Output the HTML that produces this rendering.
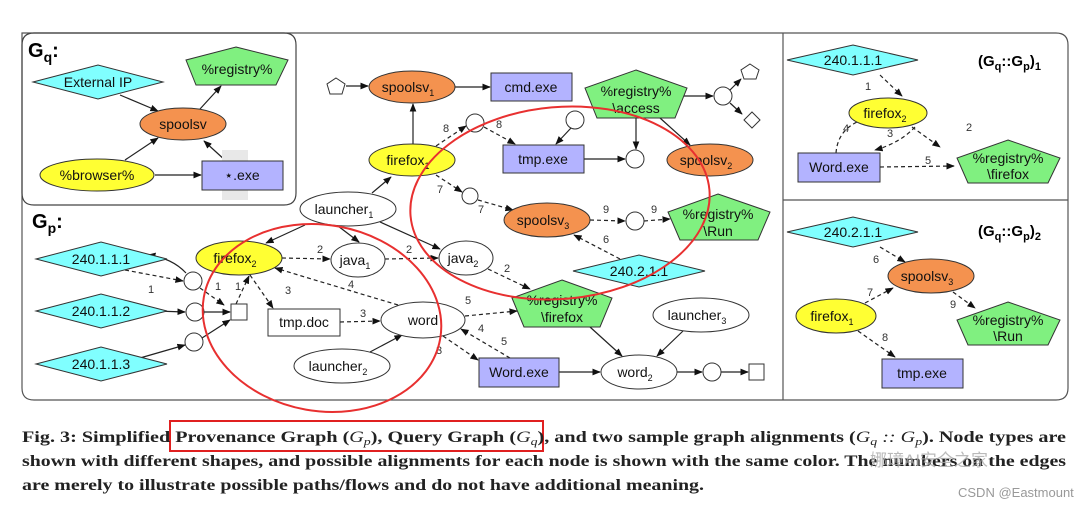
<!DOCTYPE html>
<html><head><meta charset="utf-8"><style>
html,body{margin:0;padding:0;background:#fff;}
svg{display:block;}
.t{font-family:"Liberation Sans",Arial,sans-serif;font-size:14px;fill:#111;}
.n{font-family:"Liberation Sans",Arial,sans-serif;font-size:11px;fill:#333;}
.s{stroke:#222;stroke-width:1.2;fill:none;}
.d{stroke:#222;stroke-width:1.2;fill:none;stroke-dasharray:4,3;}
.cap{font-family:"Liberation Serif",serif;font-size:16px;font-weight:bold;fill:#222;}
</style></head><body>
<svg width="1080" height="506" viewBox="0 0 1080 506" xmlns="http://www.w3.org/2000/svg">
<defs><marker id="a" viewBox="0 0 10 10" refX="9" refY="5" markerWidth="7" markerHeight="7" orient="auto"><path d="M0,1 L10,5 L0,9z" fill="#111"/></marker></defs>
<path d="M22,33 H1056 Q1068,33 1068,45 V388 Q1068,400 1056,400 H34 Q22,400 22,388 Z" fill="none" stroke="#555" stroke-width="1.2"/>
<path d="M22,193 V45 Q22,33 34,33 H284 Q296,33 296,45 V193 Q296,205 284,205 H34 Q22,205 22,193Z" fill="none" stroke="#444" stroke-width="1.2"/>
<line x1="783" y1="33" x2="783" y2="400" stroke="#555" stroke-width="1.2"/>
<line x1="783" y1="200" x2="1068" y2="200" stroke="#555" stroke-width="1.2"/>
<text x="28" y="57" style="font-family:'Liberation Sans',sans-serif;font-size:20px;font-weight:bold">G<tspan font-size="14" dy="5">q</tspan><tspan dy="-5">:</tspan></text>
<text x="32" y="228" style="font-family:'Liberation Sans',sans-serif;font-size:20px;font-weight:bold">G<tspan font-size="14" dy="5">p</tspan><tspan dy="-5">:</tspan></text>
<text x="978" y="66" style="font-family:'Liberation Sans',sans-serif;font-size:15px;font-weight:bold">(G<tspan font-size="11" dy="4">q</tspan><tspan dy="-4">::G</tspan><tspan font-size="11" dy="4">p</tspan><tspan dy="-4">)</tspan><tspan font-size="11" dy="4">1</tspan></text>
<text x="978" y="236" style="font-family:'Liberation Sans',sans-serif;font-size:15px;font-weight:bold">(G<tspan font-size="11" dy="4">q</tspan><tspan dy="-4">::G</tspan><tspan font-size="11" dy="4">p</tspan><tspan dy="-4">)</tspan><tspan font-size="11" dy="4">2</tspan></text>

<g marker-end="url(#a)">
<line class="s" x1="120" y1="95" x2="158" y2="111"/>
<line class="s" x1="200" y1="109" x2="221" y2="86"/>
<line class="s" x1="125" y1="160" x2="158" y2="138"/>
<line class="s" x1="155" y1="175" x2="201" y2="175"/>
<line class="s" x1="226" y1="161" x2="204" y2="141"/>
</g>
<polygon points="33,82 98,65 163,82 98,99" fill="#80ffff" stroke="#333"/>
<text class="t" x="98" y="87" text-anchor="middle">External IP</text>
<polygon points="236,47 288,60 276,85 196,85 186,60" fill="#80f080" stroke="#333"/>
<text class="t" x="237" y="74" text-anchor="middle">%registry%</text>
<ellipse cx="183" cy="124" rx="43" ry="16" fill="#f4924f" stroke="#333"/>
<text class="t" x="183" y="129" text-anchor="middle">spoolsv</text>
<ellipse cx="97" cy="175" rx="57" ry="16" fill="#ffff33" stroke="#333"/>
<text class="t" x="97" y="180" text-anchor="middle">%browser%</text>
<rect x="222" y="150" width="26" height="50" fill="#e8e8e8"/>
<rect x="202" y="161" width="81" height="29" fill="#b3b3ff" stroke="#333"/>
<text class="t" x="242" y="180" text-anchor="middle">⋆.exe</text>

<g marker-end="url(#a)">
<line class="s" x1="346" y1="86" x2="368" y2="86"/>
<line class="s" x1="455" y1="87" x2="490" y2="87"/>
<line class="s" x1="413" y1="144" x2="413" y2="104"/>
<line class="s" x1="372" y1="193" x2="391" y2="177"/>
<line class="s" x1="305" y1="225" x2="266" y2="243"/>
<line class="s" x1="338" y1="226" x2="359" y2="242"/>
<line class="s" x1="380" y1="222" x2="440" y2="249"/>
<line class="d" x1="436" y1="146" x2="466" y2="126"/>
<line class="d" x1="484" y1="127" x2="515" y2="144"/>
<line class="s" x1="571" y1="128" x2="556" y2="144"/>
<line class="s" x1="584" y1="159" x2="625" y2="159"/>
<line class="s" x1="636" y1="118" x2="636" y2="149"/>
<line class="s" x1="660" y1="118" x2="690" y2="145"/>
<line class="s" x1="683" y1="96" x2="713" y2="96"/>
<line class="s" x1="730" y1="90" x2="741" y2="79"/>
<line class="s" x1="730" y1="103" x2="742" y2="114"/>
<line class="d" x1="436" y1="175" x2="462" y2="192"/>
<line class="d" x1="478" y1="200" x2="513" y2="210"/>
<line class="d" x1="590" y1="220" x2="625" y2="221"/>
<line class="d" x1="644" y1="221" x2="670" y2="219"/>
<line class="d" x1="620" y1="259" x2="574" y2="235"/>
<line class="d" x1="282" y1="258" x2="330" y2="259"/>
<line class="d" x1="385" y1="259" x2="438" y2="258"/>
<line class="d" x1="488" y1="269" x2="530" y2="289"/>
<line class="d" x1="398" y1="305" x2="275" y2="268"/>
<line class="d" x1="340" y1="322" x2="380" y2="321"/>
<line class="d" x1="250" y1="275" x2="273" y2="308"/>
<line class="s" x1="370" y1="352" x2="402" y2="335"/>
<line class="d" x1="465" y1="316" x2="517" y2="311"/>
<line class="d" x1="443" y1="336" x2="478" y2="360"/>
<line class="d" x1="510" y1="358" x2="461" y2="329"/>
<line class="s" x1="590" y1="327" x2="622" y2="356"/>
<line class="s" x1="683" y1="331" x2="657" y2="356"/>
<line class="s" x1="559" y1="372" x2="600" y2="372"/>
<line class="s" x1="677" y1="372" x2="702" y2="372"/>
<line class="s" x1="721" y1="372" x2="748" y2="372"/>
<line class="d" x1="125" y1="270" x2="183" y2="281"/>
<path class="s" d="M186,273 Q172,258 148,255"/>
<line class="d" x1="200" y1="288" x2="224" y2="305"/>
<line class="d" x1="236" y1="304" x2="249" y2="276"/>
<line class="s" x1="156" y1="311" x2="185" y2="312"/>
<line class="s" x1="204" y1="312" x2="230" y2="312"/>
<line class="s" x1="140" y1="358" x2="185" y2="345"/>
<line class="s" x1="202" y1="338" x2="230" y2="320"/>
<line class="d" x1="880" y1="75" x2="902" y2="96"/>
<line class="d" x1="912" y1="127" x2="940" y2="147"/>
<path class="d" d="M915,127 Q900,143 875,150"/>
<path class="d" d="M836,153 Q838,126 868,118"/>
<line class="d" x1="880" y1="167" x2="954" y2="166"/>
<line class="d" x1="880" y1="247" x2="905" y2="262"/>
<line class="d" x1="865" y1="303" x2="893" y2="288"/>
<line class="d" x1="953" y1="292" x2="975" y2="308"/>
<line class="d" x1="858" y1="331" x2="895" y2="357"/>
</g>
<g class="n">
<text x="443" y="132">8</text><text x="496" y="128">8</text>
<text x="437" y="193">7</text><text x="478" y="213">7</text>
<text x="603" y="213">9</text><text x="651" y="213">9</text><text x="603" y="243">6</text>
<text x="317" y="253">2</text><text x="406" y="253">2</text><text x="504" y="272">2</text>
<text x="348" y="288">4</text><text x="360" y="317">3</text><text x="285" y="294">3</text>
<text x="465" y="304">5</text><text x="436" y="354">3</text><text x="478" y="332">4</text><text x="501" y="345">5</text>
<text x="148" y="293">1</text><text x="215" y="290">1</text><text x="235" y="290">1</text>
<text x="865" y="90">1</text><text x="966" y="131">2</text><text x="887" y="137">3</text><text x="843" y="132">4</text><text x="925" y="164">5</text>
<text x="873" y="263">6</text><text x="867" y="296">7</text><text x="950" y="308">9</text><text x="882" y="341">8</text>
</g>
<polygon points="336,78 345,84 342,94 330,94 327,84" fill="#fff" stroke="#333"/>
<ellipse cx="412" cy="87" rx="43" ry="16" fill="#f4924f" stroke="#333"/>
<text class="t" x="408" y="92" text-anchor="middle">spoolsv<tspan font-size="9" dy="4">1</tspan></text>
<rect x="491" y="73" width="81" height="28" fill="#b3b3ff" stroke="#333"/>
<text class="t" x="531" y="92" text-anchor="middle">cmd.exe</text>
<polygon points="636,70 687,88 675,118 597,118 585,88" fill="#80f080" stroke="#333"/>
<text class="t" x="636" y="96" text-anchor="middle">%registry%</text>
<text class="t" x="636" y="113" text-anchor="middle">\access</text>
<circle cx="723" cy="96" r="9" fill="#fff" stroke="#333"/>
<polygon points="750,64 759,70 756,79 744,79 741,70" fill="#fff" stroke="#333"/>
<polygon points="752,112 760,120 752,128 744,120" fill="#fff" stroke="#333"/>
<circle cx="475" cy="123" r="9" fill="#fff" stroke="#333"/>
<circle cx="575" cy="120" r="9" fill="#fff" stroke="#333"/>
<rect x="503" y="145" width="81" height="28" fill="#b3b3ff" stroke="#333"/>
<text class="t" x="543" y="164" text-anchor="middle">tmp.exe</text>
<circle cx="635" cy="159" r="9" fill="#fff" stroke="#333"/>
<ellipse cx="710" cy="160" rx="43" ry="16" fill="#f4924f" stroke="#333"/>
<text class="t" x="706" y="165" text-anchor="middle">spoolsv<tspan font-size="9" dy="4">2</tspan></text>
<ellipse cx="412" cy="160" rx="43" ry="16" fill="#ffff33" stroke="#333"/>
<text class="t" x="408" y="165" text-anchor="middle">firefox<tspan font-size="9" dy="4">1</tspan></text>
<circle cx="470" cy="196" r="8" fill="#fff" stroke="#333"/>
<ellipse cx="547" cy="220" rx="43" ry="17" fill="#f4924f" stroke="#333"/>
<text class="t" x="543" y="225" text-anchor="middle">spoolsv<tspan font-size="9" dy="4">3</tspan></text>
<circle cx="635" cy="221" r="9" fill="#fff" stroke="#333"/>
<polygon points="718,194 770,212 758,240 680,240 668,212" fill="#80f080" stroke="#333"/>
<text class="t" x="718" y="219" text-anchor="middle">%registry%</text>
<text class="t" x="718" y="236" text-anchor="middle">\Run</text>
<polygon points="573,271 639,255 705,271 639,287" fill="#80ffff" stroke="#333"/>
<text class="t" x="639" y="276" text-anchor="middle">240.2.1.1</text>
<ellipse cx="348" cy="209" rx="48" ry="17" fill="#fff" stroke="#333"/>
<text class="t" x="344" y="214" text-anchor="middle">launcher<tspan font-size="9" dy="4">1</tspan></text>
<ellipse cx="239" cy="258" rx="43" ry="17" fill="#ffff33" stroke="#333"/>
<text class="t" x="235" y="263" text-anchor="middle">firefox<tspan font-size="9" dy="4">2</tspan></text>
<ellipse cx="358" cy="260" rx="27" ry="17" fill="#fff" stroke="#333"/>
<text class="t" x="355" y="265" text-anchor="middle">java<tspan font-size="9" dy="4">1</tspan></text>
<ellipse cx="466" cy="258" rx="27" ry="17" fill="#fff" stroke="#333"/>
<text class="t" x="463" y="263" text-anchor="middle">java<tspan font-size="9" dy="4">2</tspan></text>
<polygon points="562,280 612,298 600,327 524,327 512,298" fill="#80f080" stroke="#333"/>
<text class="t" x="562" y="305" text-anchor="middle">%registry%</text>
<text class="t" x="562" y="322" text-anchor="middle">\firefox</text>
<ellipse cx="701" cy="315" rx="48" ry="17" fill="#fff" stroke="#333"/>
<text class="t" x="697" y="320" text-anchor="middle">launcher<tspan font-size="9" dy="4">3</tspan></text>
<rect x="268" y="309" width="72" height="27" fill="#fff" stroke="#333"/>
<text class="t" x="304" y="327" text-anchor="middle">tmp.doc</text>
<ellipse cx="423" cy="320" rx="42" ry="18" fill="#fff" stroke="#333"/>
<text class="t" x="423" y="325" text-anchor="middle">word</text>
<ellipse cx="342" cy="366" rx="48" ry="17" fill="#fff" stroke="#333"/>
<text class="t" x="338" y="371" text-anchor="middle">launcher<tspan font-size="9" dy="4">2</tspan></text>
<rect x="479" y="358" width="80" height="29" fill="#b3b3ff" stroke="#333"/>
<text class="t" x="519" y="377" text-anchor="middle">Word.exe</text>
<ellipse cx="639" cy="372" rx="38" ry="17" fill="#fff" stroke="#333"/>
<text class="t" x="635" y="377" text-anchor="middle">word<tspan font-size="9" dy="4">2</tspan></text>
<circle cx="712" cy="372" r="9" fill="#fff" stroke="#333"/>
<rect x="749" y="364" width="15" height="16" fill="#fff" stroke="#333"/>
<polygon points="36,259 101,242 167,259 101,276" fill="#80ffff" stroke="#333"/>
<text class="t" x="101" y="264" text-anchor="middle">240.1.1.1</text>
<polygon points="36,311 101,294 167,311 101,328" fill="#80ffff" stroke="#333"/>
<text class="t" x="101" y="316" text-anchor="middle">240.1.1.2</text>
<polygon points="36,364 101,347 167,364 101,381" fill="#80ffff" stroke="#333"/>
<text class="t" x="101" y="369" text-anchor="middle">240.1.1.3</text>
<circle cx="193" cy="281" r="9" fill="#fff" stroke="#333"/>
<circle cx="195" cy="312" r="9" fill="#fff" stroke="#333"/>
<circle cx="194" cy="342" r="9" fill="#fff" stroke="#333"/>
<rect x="231" y="304" width="16" height="16" fill="#fff" stroke="#333"/>
<polygon points="787,60 853,45 918,60 853,75" fill="#80ffff" stroke="#333"/>
<text class="t" x="853" y="65" text-anchor="middle">240.1.1.1</text>
<ellipse cx="888" cy="113" rx="39" ry="15" fill="#ffff33" stroke="#333"/>
<text class="t" x="885" y="118" text-anchor="middle">firefox<tspan font-size="9" dy="4">2</tspan></text>
<rect x="798" y="153" width="82" height="29" fill="#b3b3ff" stroke="#333"/>
<text class="t" x="839" y="172" text-anchor="middle">Word.exe</text>
<polygon points="1008,140 1060,158 1048,183 968,183 957,158" fill="#80f080" stroke="#333"/>
<text class="t" x="1008" y="163" text-anchor="middle">%registry%</text>
<text class="t" x="1008" y="179" text-anchor="middle">\firefox</text>
<polygon points="787,232 853,217 918,232 853,247" fill="#80ffff" stroke="#333"/>
<text class="t" x="853" y="237" text-anchor="middle">240.2.1.1</text>
<ellipse cx="931" cy="276" rx="43" ry="17" fill="#f4924f" stroke="#333"/>
<text class="t" x="927" y="281" text-anchor="middle">spoolsv<tspan font-size="9" dy="4">3</tspan></text>
<ellipse cx="836" cy="316" rx="40" ry="17" fill="#ffff33" stroke="#333"/>
<text class="t" x="832" y="321" text-anchor="middle">firefox<tspan font-size="9" dy="4">1</tspan></text>
<polygon points="1008,302 1060,320 1048,345 968,345 957,320" fill="#80f080" stroke="#333"/>
<text class="t" x="1008" y="325" text-anchor="middle">%registry%</text>
<text class="t" x="1008" y="341" text-anchor="middle">\Run</text>
<rect x="882" y="359" width="81" height="29" fill="#b3b3ff" stroke="#333"/>
<text class="t" x="922" y="378" text-anchor="middle">tmp.exe</text>
<ellipse cx="560" cy="203" rx="150" ry="96" transform="rotate(-5 560 203)" fill="none" stroke="#e83030" stroke-width="2"/>
<ellipse cx="322" cy="318" rx="120" ry="93" transform="rotate(10 322 318)" fill="none" stroke="#e83030" stroke-width="2"/>
<rect x="170" y="421" width="373" height="30" fill="none" stroke="#e02020" stroke-width="2"/>
<text class="cap" x="22" y="442" textLength="1044" lengthAdjust="spacingAndGlyphs">Fig. 3: Simplified Provenance Graph (<tspan font-style="italic" font-weight="normal">G<tspan font-size="11" dy="3">p</tspan></tspan><tspan dy="-3">), Query Graph (</tspan><tspan font-style="italic" font-weight="normal">G<tspan font-size="11" dy="3">q</tspan></tspan><tspan dy="-3">), and two sample graph alignments (</tspan><tspan font-style="italic" font-weight="normal">G<tspan font-size="11" dy="3">q</tspan><tspan dy="-3"> :: G</tspan><tspan font-size="11" dy="3">p</tspan></tspan><tspan dy="-3">). Node types are</tspan></text>
<text class="cap" x="22" y="466" textLength="1044" lengthAdjust="spacingAndGlyphs">shown with different shapes, and possible alignments for each node is shown with the same color. The numbers on the edges</text>
<text class="cap" x="22" y="490" textLength="682" lengthAdjust="spacingAndGlyphs">are merely to illustrate possible paths/flows and do not have additional meaning.</text>
<text x="870" y="466" style="font-family:'Liberation Sans','Noto Sans CJK SC',sans-serif;font-size:17px;fill:#aaa;opacity:0.8">娜璋AI安全之家</text>
<text x="958" y="497" style="font-family:'Liberation Sans',sans-serif;font-size:13px;fill:#999">CSDN @Eastmount</text>
</svg>
</body></html>
